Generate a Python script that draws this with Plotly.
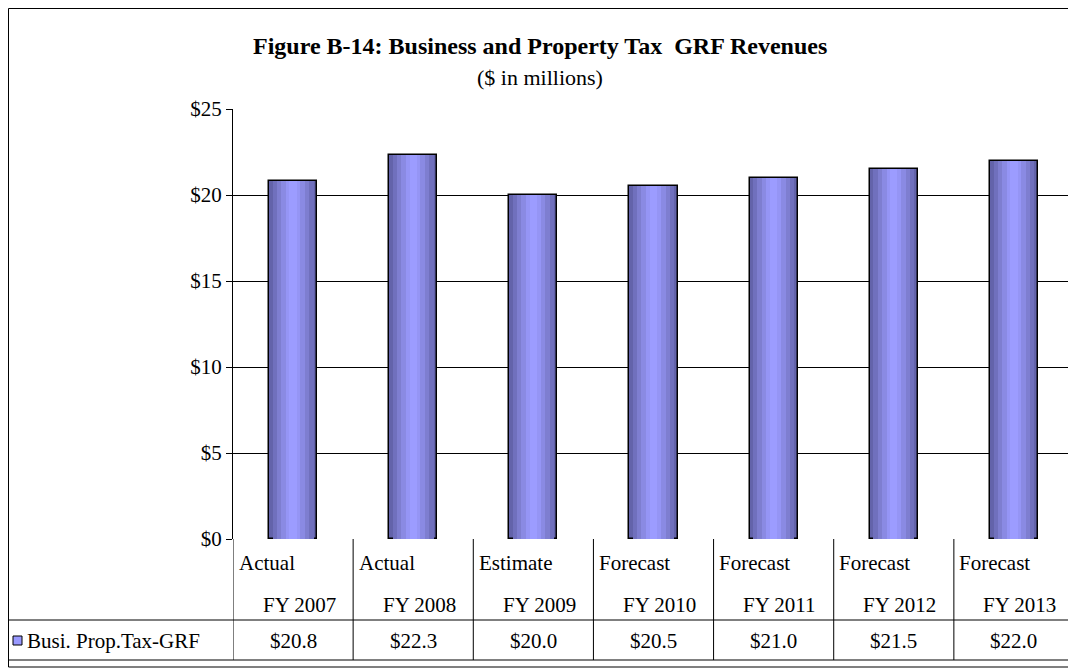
import plotly.graph_objects as go

cat_top = ["Actual", "Actual", "Estimate", "Forecast", "Forecast", "Forecast", "Forecast"]
cat_years = ["FY 2007", "FY 2008", "FY 2009", "FY 2010", "FY 2011", "FY 2012", "FY 2013"]
values = [20.8, 22.3, 20.0, 20.5, 21.0, 21.5, 22.0]
series_name = "Busi. Prop.Tax-GRF"
y_ticks = [0, 5, 10, 15, 20, 25]

FONT = "Liberation Serif"
FS = 21
x = list(range(len(values)))
fig = go.Figure()

OFF = 8
W, H = 1076 - OFF, 670 - OFF
L, R, T, B = 233 - OFF, 2, 109 - OFF, H - (539 - OFF)
PW, PH = W - L - R, H - T - B

def px_(p):
    return (p - OFF - L) / PW

def py(p):
    return (H - B - (p - OFF)) / PH

steps = [(0.40, "#6363aa"), (0.34, "#7070bd"), (0.27, "#7e7ed0"), (0.20, "#8a8ae3"), (0.12, "#9595f5"), (0.06, "#9c9cff")]
for i, (w, c) in enumerate(steps):
    fig.add_trace(go.Bar(
        x=x, y=values, width=w, marker_color=c,
        marker_line_color="black" if i == 0 else c,
        marker_line_width=1.5 if i == 0 else 0,
        showlegend=False, hoverinfo="skip"))

fig.update_layout(
    width=W, height=H, barmode="overlay", bargap=0,
    plot_bgcolor="white", paper_bgcolor="white",
    margin=dict(l=L, r=R, t=T, b=B),
    font=dict(family=FONT, size=FS, color="black"),
    xaxis=dict(range=[-0.5, len(values) - 0.5], showticklabels=False, showgrid=False,
               zeroline=False, showline=False),
    yaxis=dict(range=[0, 25], tickvals=y_ticks, ticktext=[f"${v}" for v in y_ticks],
               showgrid=True, gridcolor="black", gridwidth=1, zeroline=False,
               showline=True, linecolor="black", linewidth=1, ticks="outside",
               ticklen=6, tickcolor="black", tickfont=dict(family=FONT, size=FS)),
)

def A(text, xr, xv, yv, xa="center", size=FS):
    return dict(text=text, xref=xr, yref="paper", x=xv, y=yv, xanchor=xa, yanchor="middle",
                showarrow=False, font=dict(family=FONT, size=size))

ann = [A("<b>Figure B-14: Business and Property Tax  GRF Revenues</b>", "paper", px_(540), py(46), size=24),
       A("($ in millions)", "paper", px_(540), py(77), size=22)]
shapes = []
for i in x:
    ann.append(A(cat_top[i], "x", i - 0.47, py(563), xa="left"))
    ann.append(A(cat_years[i], "x", i + 0.05, py(605)))
    ann.append(A(f"${values[i]:.1f}", "x", i, py(641)))
for i in range(len(values) + 1):
    shapes.append(dict(type="line", xref="x", yref="paper", x0=i - 0.5, x1=i - 0.5,
                       y0=py(539), y1=py(660), line=dict(color="black", width=1)))
for yy in (620, 660):
    shapes.append(dict(type="line", xref="paper", yref="paper", x0=px_(8), x1=1,
                       y0=py(yy), y1=py(yy), line=dict(color="black", width=1)))
shapes.append(dict(type="line", xref="paper", yref="paper", x0=px_(8), x1=px_(8),
                   y0=py(620), y1=py(660), line=dict(color="black", width=1)))
shapes.append(dict(type="rect", xref="paper", yref="paper", x0=px_(13), x1=px_(22),
                   y0=py(645), y1=py(636), fillcolor="#9999ff", line=dict(color="black", width=1)))
ann.append(A(series_name, "paper", px_(25), py(641), xa="left"))
shapes.append(dict(type="rect", xref="paper", yref="paper", x0=px_(8.5), x1=px_(1074),
                   y0=py(667), y1=py(8.5), line=dict(color="black", width=1)))
fig.update_layout(annotations=ann, shapes=shapes)
fig.write_html("out.html")
